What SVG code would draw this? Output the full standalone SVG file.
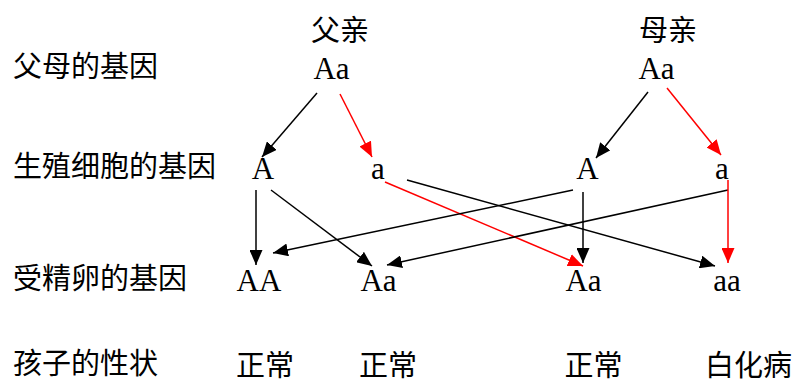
<svg xmlns="http://www.w3.org/2000/svg" width="795" height="385" viewBox="0 0 795 385">
<defs>
<style>
.zh{font-family:"Noto Sans CJK SC","Noto Sans",sans-serif;font-size:29px;fill:#000}
.g{font-family:"Liberation Serif","DejaVu Serif",serif;font-size:31px;fill:#000;text-anchor:middle}
.c{text-anchor:middle}
.k{stroke:#000;stroke-width:1.5;fill:none;marker-end:url(#ak)}
.r{stroke:#f00;stroke-width:1.5;fill:none;marker-end:url(#ar)}
</style>
<marker id="ak" markerUnits="userSpaceOnUse" markerWidth="15" markerHeight="13" refX="15" refY="6.5" orient="auto"><path d="M0,0 L15,6.5 L0,13 z" fill="#000"/></marker>
<marker id="ar" markerUnits="userSpaceOnUse" markerWidth="15" markerHeight="13" refX="15" refY="6.5" orient="auto"><path d="M0,0 L15,6.5 L0,13 z" fill="#f00"/></marker>
</defs>
<rect width="795" height="385" fill="#fff"/>
<g id="row-labels">
<text class="zh" x="13" y="77">父母的基因</text>
<text class="zh" x="13" y="177">生殖细胞的基因</text>
<text class="zh" x="13" y="289">受精卵的基因</text>
<text class="zh" x="13" y="374">孩子的性状</text>
</g>
<g id="father"><text class="zh c" x="340" y="41">父亲</text><text class="g" x="331.5" y="79">Aa</text></g>
<g id="mother"><text class="zh c" x="668" y="41">母亲</text><text class="g" x="656.5" y="79">Aa</text></g>
<g id="sperm-A"><text class="g" x="263" y="179">A</text></g>
<g id="sperm-a"><text class="g" x="378" y="179">a</text></g>
<g id="egg-A"><text class="g" x="587.5" y="179">A</text></g>
<g id="egg-a"><text class="g" x="722" y="179">a</text></g>
<g id="zygote-AA"><text class="g" x="259" y="291">AA</text><text class="zh c" x="265" y="376">正常</text></g>
<g id="zygote-Aa1"><text class="g" x="378.5" y="291">Aa</text><text class="zh c" x="388" y="376">正常</text></g>
<g id="zygote-Aa2"><text class="g" x="583.5" y="291">Aa</text><text class="zh c" x="593.5" y="376">正常</text></g>
<g id="zygote-aa"><text class="g" x="727" y="291">aa</text><text class="zh c" x="748.5" y="376">白化病</text></g>
<g id="connectors">
<line class="k" x1="317" y1="93" x2="262" y2="157"/>
<line class="r" x1="340" y1="94" x2="372" y2="157"/>
<line class="k" x1="648" y1="92" x2="596" y2="158"/>
<line class="r" x1="667" y1="88" x2="721" y2="155"/>
<line class="k" x1="256" y1="190" x2="256" y2="265"/>
<line class="k" x1="271" y1="190" x2="372" y2="266"/>
<line class="r" x1="385" y1="182" x2="583" y2="266"/>
<line class="k" x1="407" y1="180" x2="715" y2="266"/>
<line class="k" x1="573" y1="190" x2="273" y2="253"/>
<line class="k" x1="583" y1="192" x2="583" y2="263"/>
<line class="k" x1="728" y1="190" x2="387" y2="265"/>
<line class="r" x1="728" y1="180" x2="728" y2="263"/>
</g>
</svg>
